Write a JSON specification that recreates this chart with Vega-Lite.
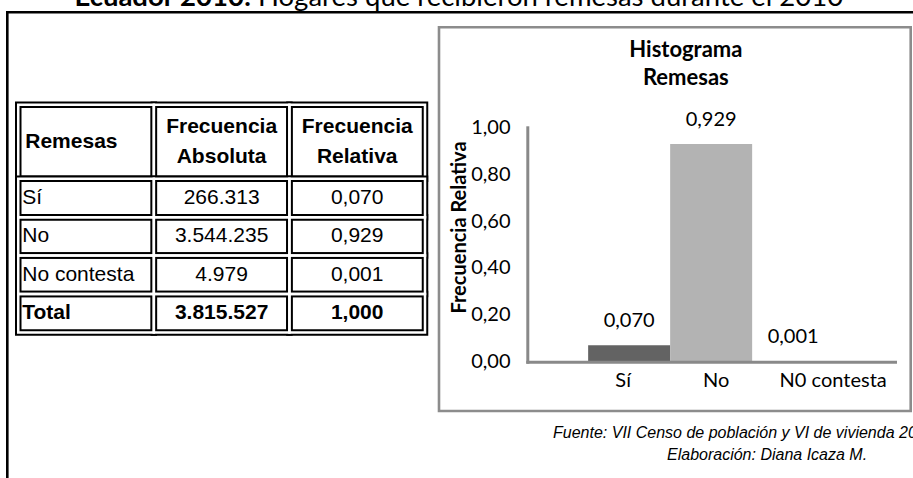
{
  "$schema": "https://vega.github.io/schema/vega-lite/v6.json",
  "width": 913,
  "height": 478,
  "autosize": {"type": "none"},
  "padding": 0,
  "background": "white",
  "config": {
    "view": {"stroke": null},
    "axis": {"grid": false},
    "locale": {"number": {"decimal": ",", "thousands": ".", "grouping": [3], "currency": ["$", ""]}}
  },
  "datasets": {
    "pagina": [{"marco": "página"}],
    "titulo": [
      {"parte": "Ecuador 2010:"},
      {"parte": "Hogares que recibieron remesas durante el 2010"}
    ],
    "encabezado": [
      {"fila": "Encabezado", "columna": "Remesas", "texto": "Remesas"},
      {"fila": "Encabezado", "columna": "Frecuencia Absoluta", "texto": "Frecuencia\nAbsoluta"},
      {"fila": "Encabezado", "columna": "Frecuencia Relativa", "texto": "Frecuencia\nRelativa"}
    ],
    "cuerpo": [
      {"fila": "Sí", "columna": "Remesas", "texto": "Sí"},
      {"fila": "Sí", "columna": "Frecuencia Absoluta", "texto": "266.313"},
      {"fila": "Sí", "columna": "Frecuencia Relativa", "texto": "0,070"},
      {"fila": "No", "columna": "Remesas", "texto": "No"},
      {"fila": "No", "columna": "Frecuencia Absoluta", "texto": "3.544.235"},
      {"fila": "No", "columna": "Frecuencia Relativa", "texto": "0,929"},
      {"fila": "No contesta", "columna": "Remesas", "texto": "No contesta"},
      {"fila": "No contesta", "columna": "Frecuencia Absoluta", "texto": "4.979"},
      {"fila": "No contesta", "columna": "Frecuencia Relativa", "texto": "0,001"},
      {"fila": "Total", "columna": "Remesas", "texto": "Total"},
      {"fila": "Total", "columna": "Frecuencia Absoluta", "texto": "3.815.527"},
      {"fila": "Total", "columna": "Frecuencia Relativa", "texto": "1,000"}
    ],
    "grafico": [{"grafico": "Histograma", "titulo": "Histograma\nRemesas"}],
    "histograma": [
      {"categoria": "Sí", "frecuencia": 0.070},
      {"categoria": "No", "frecuencia": 0.929},
      {"categoria": "N0 contesta", "frecuencia": 0.001}
    ],
    "pie": [
      {"linea": "Fuente", "texto": "Fuente: VII Censo de población y VI de vivienda 2010"},
      {"linea": "Elaboración", "texto": "Elaboración: Diana Icaza M."}
    ]
  },
  "layer": [
    {
      "data": {"name": "pagina"},
      "mark": {"type": "rect", "filled": false, "stroke": "#000000", "strokeWidth": 2.6},
      "encoding": {
        "x": {"field": "marco", "type": "nominal", "scale": {"type": "band", "range": [7.3, 1300], "paddingInner": 0, "paddingOuter": 0}, "axis": null},
        "y": {"field": "marco", "type": "nominal", "scale": {"type": "band", "range": [12.2, 900], "paddingInner": 0, "paddingOuter": 0}, "axis": null}
      }
    },
    {
      "data": {"name": "titulo"},
      "encoding": {
        "x": {"field": "parte", "type": "nominal", "scale": {"type": "point", "domain": ["Ecuador 2010:", "Hogares que recibieron remesas durante el 2010"], "range": [251, 258], "padding": 0}, "axis": null},
        "y": {"field": "parte", "type": "nominal", "scale": {"type": "point", "domain": ["Ecuador 2010:", "Hogares que recibieron remesas durante el 2010"], "range": [6, 6], "padding": 0}, "axis": null},
        "text": {"field": "parte"}
      },
      "layer": [
        {
          "transform": [{"filter": "datum.parte === 'Ecuador 2010:'"}],
          "mark": {"type": "text", "align": "right", "baseline": "alphabetic", "font": "Lato", "fontSize": 27.5, "fontWeight": "bold", "color": "#000000"}
        },
        {
          "transform": [{"filter": "datum.parte !== 'Ecuador 2010:'"}],
          "mark": {"type": "text", "align": "left", "baseline": "alphabetic", "font": "Lato", "fontSize": 27.5, "fontWeight": "normal", "color": "#000000"}
        }
      ]
    },
    {
      "layer": [
        {
          "data": {"name": "encabezado"},
          "encoding": {
            "x": {"field": "columna", "type": "nominal", "scale": {"type": "band", "domain": ["Remesas", "Frecuencia Absoluta", "Frecuencia Relativa"], "range": [18.25, 425], "paddingInner": 0, "paddingOuter": 0}, "axis": null},
            "y": {"field": "fila", "type": "nominal", "scale": {"type": "band", "domain": ["Encabezado"], "range": [104.75, 178.7], "paddingInner": 0, "paddingOuter": 0}, "axis": null}
          },
          "layer": [
            {"mark": {"type": "rect", "filled": false, "stroke": "#000000", "strokeWidth": 6.5}},
            {"mark": {"type": "rect", "filled": false, "stroke": "#ffffff", "strokeWidth": 2.5}},
            {
              "transform": [{"filter": "datum.columna === 'Remesas'"}],
              "mark": {"type": "text", "align": "left", "baseline": "middle", "dx": 7, "font": "Liberation Sans", "fontSize": 21, "fontWeight": "bold", "color": "#000000"},
              "encoding": {
                "x": {"field": "columna", "type": "nominal", "bandPosition": 0, "scale": {"type": "band", "domain": ["Remesas", "Frecuencia Absoluta", "Frecuencia Relativa"], "range": [18.25, 425], "paddingInner": 0, "paddingOuter": 0}, "axis": null},
                "text": {"field": "texto"}
              }
            },
            {
              "transform": [{"filter": "datum.columna !== 'Remesas'"}],
              "mark": {"type": "text", "align": "center", "baseline": "middle", "dy": -15, "lineBreak": "\n", "lineHeight": 30, "font": "Liberation Sans", "fontSize": 21, "fontWeight": "bold", "color": "#000000"},
              "encoding": {"text": {"field": "texto"}}
            }
          ]
        },
        {
          "data": {"name": "cuerpo"},
          "encoding": {
            "x": {"field": "columna", "type": "nominal", "scale": {"type": "band", "domain": ["Remesas", "Frecuencia Absoluta", "Frecuencia Relativa"], "range": [18.25, 425], "paddingInner": 0, "paddingOuter": 0}, "axis": null},
            "y": {"field": "fila", "type": "nominal", "scale": {"type": "band", "domain": ["Sí", "No", "No contesta", "Total"], "range": [178.7, 332.5], "paddingInner": 0, "paddingOuter": 0}, "axis": null}
          },
          "layer": [
            {"mark": {"type": "rect", "filled": false, "stroke": "#000000", "strokeWidth": 6.5}},
            {"mark": {"type": "rect", "filled": false, "stroke": "#ffffff", "strokeWidth": 2.5}},
            {
              "transform": [{"filter": "datum.columna === 'Remesas' && datum.fila !== 'Total'"}],
              "mark": {"type": "text", "align": "left", "baseline": "middle", "dx": 4, "font": "Liberation Sans", "fontSize": 21, "fontWeight": "normal", "color": "#000000"},
              "encoding": {
                "x": {"field": "columna", "type": "nominal", "bandPosition": 0, "scale": {"type": "band", "domain": ["Remesas", "Frecuencia Absoluta", "Frecuencia Relativa"], "range": [18.25, 425], "paddingInner": 0, "paddingOuter": 0}, "axis": null},
                "text": {"field": "texto"}
              }
            },
            {
              "transform": [{"filter": "datum.columna !== 'Remesas' && datum.fila !== 'Total'"}],
              "mark": {"type": "text", "align": "center", "baseline": "middle", "font": "Liberation Sans", "fontSize": 21, "fontWeight": "normal", "color": "#000000"},
              "encoding": {"text": {"field": "texto"}}
            },
            {
              "transform": [{"filter": "datum.columna === 'Remesas' && datum.fila === 'Total'"}],
              "mark": {"type": "text", "align": "left", "baseline": "middle", "dx": 4, "font": "Liberation Sans", "fontSize": 21, "fontWeight": "bold", "color": "#000000"},
              "encoding": {
                "x": {"field": "columna", "type": "nominal", "bandPosition": 0, "scale": {"type": "band", "domain": ["Remesas", "Frecuencia Absoluta", "Frecuencia Relativa"], "range": [18.25, 425], "paddingInner": 0, "paddingOuter": 0}, "axis": null},
                "text": {"field": "texto"}
              }
            },
            {
              "transform": [{"filter": "datum.columna !== 'Remesas' && datum.fila === 'Total'"}],
              "mark": {"type": "text", "align": "center", "baseline": "middle", "font": "Liberation Sans", "fontSize": 21, "fontWeight": "bold", "color": "#000000"},
              "encoding": {"text": {"field": "texto"}}
            }
          ]
        }
      ],
      "resolve": {"scale": {"y": "independent"}}
    },
    {
      "data": {"name": "grafico"},
      "encoding": {
        "x": {"field": "grafico", "type": "nominal", "scale": {"type": "band", "range": [439, 910.7], "paddingInner": 0, "paddingOuter": 0}, "axis": null},
        "y": {"field": "grafico", "type": "nominal", "scale": {"type": "band", "range": [27.3, 411], "paddingInner": 0, "paddingOuter": 0}, "axis": null}
      },
      "layer": [
        {"mark": {"type": "rect", "fill": "#ffffff", "stroke": "#8c8c8c", "strokeWidth": 2.6}},
        {
          "mark": {"type": "text", "align": "center", "baseline": "top", "lineBreak": "\n", "lineHeight": 28, "dx": 11, "dy": 13, "font": "Lato", "fontSize": 22, "fontWeight": "bold", "color": "#000000"},
          "encoding": {
            "y": {"field": "grafico", "type": "nominal", "bandPosition": 0, "scale": {"type": "band", "range": [27.3, 411], "paddingInner": 0, "paddingOuter": 0}, "axis": null},
            "text": {"field": "titulo"}
          }
        }
      ]
    },
    {
      "data": {"name": "histograma"},
      "encoding": {
        "x": {
          "field": "categoria", "type": "nominal", "sort": null,
          "scale": {"type": "band", "domain": ["Sí", "No", "N0 contesta"], "range": [527.3, 895], "paddingInner": 0, "paddingOuter": 0.742},
          "axis": {
            "orient": "bottom", "offset": -116.3, "title": null, "zindex": 1,
            "domainColor": "#898989", "domainWidth": 3, "domainCap": "square",
            "ticks": false, "tickSize": 0,
            "labelFont": "Lato", "labelFontSize": 20, "labelColor": "#000000", "labelPadding": 9, "labelAngle": 0, "labelFlush": false, "labelOverlap": false,
            "labelOffset": {"condition": [{"test": "datum.value === 'N0 contesta'", "value": 40}, {"test": "datum.value === 'No'", "value": 5}], "value": -6}
          }
        },
        "y": {
          "field": "frecuencia", "type": "quantitative",
          "scale": {"domain": [0, 1], "range": [361.7, 127.3], "nice": false, "zero": true},
          "axis": {
            "orient": "left", "offset": -527.3, "zindex": 1,
            "values": [0, 0.2, 0.4, 0.6, 0.8, 1], "format": ".2f",
            "domainColor": "#898989", "domainWidth": 3, "domainCap": "square",
            "ticks": false, "tickSize": 0,
            "labelFont": "Lato", "labelFontSize": 20, "labelColor": "#000000", "labelPadding": 17.3, "labelFlush": false, "labelOverlap": false,
            "title": "Frecuencia Relativa", "titleFont": "Lato", "titleFontSize": 20, "titleFontWeight": "bold", "titleColor": "#000000",
            "titleAngle": 270, "titleAlign": "center", "titleBaseline": "alphabetic", "titleX": -62.3, "titleY": 227
          }
        }
      },
      "layer": [
        {
          "mark": {"type": "bar"},
          "encoding": {
            "color": {"field": "categoria", "type": "nominal", "scale": {"domain": ["Sí", "No", "N0 contesta"], "range": ["#636363", "#b3b3b3", "#8a8a8a"]}, "legend": null}
          }
        },
        {
          "mark": {"type": "text", "align": "center", "baseline": "alphabetic", "dy": -18, "font": "Lato", "fontSize": 20, "color": "#000000"},
          "encoding": {"text": {"field": "frecuencia", "type": "quantitative", "format": ".3f"}}
        }
      ]
    },
    {
      "data": {"name": "pie"},
      "mark": {"type": "text", "align": "left", "baseline": "middle", "font": "Liberation Sans", "fontSize": 16, "fontStyle": "italic", "color": "#000000"},
      "encoding": {
        "x": {"field": "linea", "type": "nominal", "scale": {"type": "point", "domain": ["Fuente", "Elaboración"], "range": [553, 667], "padding": 0}, "axis": null},
        "y": {"field": "linea", "type": "nominal", "scale": {"type": "point", "domain": ["Fuente", "Elaboración"], "range": [433, 455], "padding": 0}, "axis": null},
        "text": {"field": "texto"}
      }
    }
  ],
  "resolve": {"scale": {"x": "independent", "y": "independent", "color": "independent"}}
}
